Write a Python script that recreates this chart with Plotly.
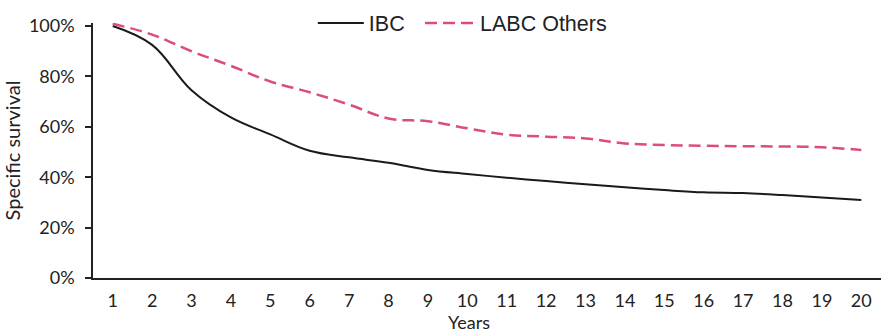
import plotly.graph_objects as go

years = list(range(1, 21))
tick_labels = [str(y) for y in years]

# Specific survival by year after diagnosis (fraction)
ibc = [1.000, 0.925, 0.745, 0.637, 0.570, 0.505, 0.479, 0.457, 0.429, 0.413,
       0.398, 0.385, 0.372, 0.360, 0.349, 0.340, 0.337, 0.329, 0.319, 0.310]
labc_others = [1.009, 0.966, 0.900, 0.842, 0.780, 0.737, 0.688, 0.633, 0.622, 0.594,
               0.569, 0.561, 0.554, 0.534, 0.528, 0.525, 0.523, 0.522, 0.519, 0.508]

fig = go.Figure()
fig.add_trace(go.Scatter(
    x=years, y=ibc, name="IBC", mode="lines", legend="legend",
    line=dict(color="#1a1a1a", width=2, shape="spline", smoothing=1.1),
))
fig.add_trace(go.Scatter(
    x=years, y=labc_others, name="LABC Others", mode="lines", legend="legend2",
    line=dict(color="#d94f7a", width=2.5, dash="12px,6px", shape="spline", smoothing=1.1),
))

axis_family = "Lato, 'Open Sans', sans-serif"
tick_font = dict(family=axis_family, size=18, color="#222")
legend_font = dict(family="Liberation Sans, Arial, sans-serif", size=21.5, color="#222")

fig.update_layout(
    width=883, height=332,
    margin=dict(l=93, r=2, t=20, b=54),
    paper_bgcolor="white", plot_bgcolor="white",
    showlegend=True,
    legend=dict(
        orientation="h", x=0.279, xanchor="left", y=1.0, yanchor="middle",
        font=legend_font, itemwidth=46, bgcolor="rgba(0,0,0,0)",
    ),
    legend2=dict(
        orientation="h", x=0.415, xanchor="left", y=1.0, yanchor="middle",
        font=legend_font, itemwidth=50, bgcolor="rgba(0,0,0,0)",
    ),
    xaxis=dict(
        range=[0.5, 20.5], tickvals=years, ticktext=tick_labels,
        showline=True, linecolor="#222", linewidth=1.5, ticks="",
        showgrid=False, zeroline=False, tickfont=tick_font,
        ticklabelstandoff=6,
    ),
    yaxis=dict(
        range=[0, 1.012], tickvals=[0, 0.2, 0.4, 0.6, 0.8, 1.0],
        tickformat=".0%", showline=True, linecolor="#222", linewidth=1.5,
        ticks="outside", ticklen=6, tickcolor="#222", tickwidth=1.5,
        showgrid=False, zeroline=False, tickfont=tick_font,
        ticklabelstandoff=7,
        title=dict(text="Specific survival",
                   font=dict(family=axis_family, size=20, color="#222"), standoff=3),
    ),
    annotations=[dict(
        text="Years", xref="paper", yref="paper", x=0.477, y=0,
        xanchor="center", yanchor="top", yshift=-31, showarrow=False,
        font=dict(family=axis_family, size=18, color="#222"),
    )],
)

fig.write_html("out.html")
